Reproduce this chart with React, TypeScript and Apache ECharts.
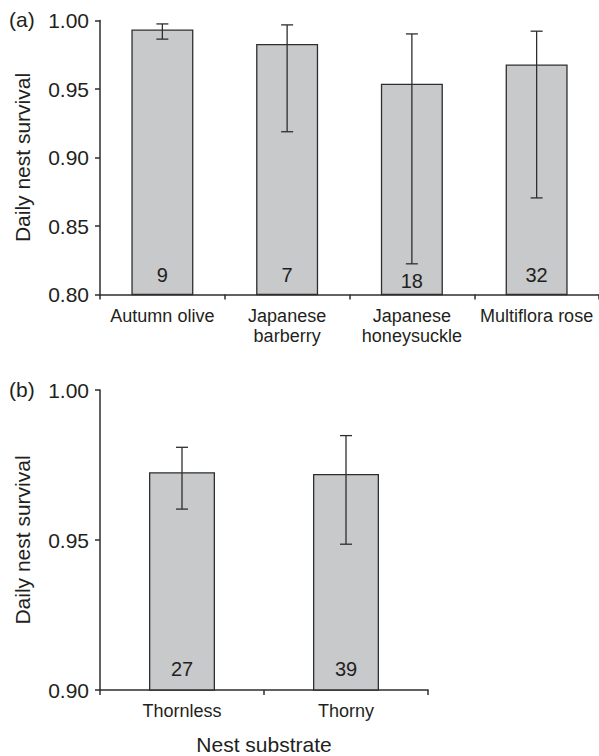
import React, { useEffect, useRef } from "react";
import * as echarts from "echarts";

// Panel (a): shrub species
const speciesCategories = ["Autumn olive", "Japanese\nbarberry", "Japanese\nhoneysuckle", "Multiflora rose"];
const speciesSurvival = [0.9934, 0.9829, 0.9538, 0.9679];
const speciesLower = [0.9864, 0.9188, 0.8224, 0.8705];
const speciesUpper = [0.9975, 0.9968, 0.9902, 0.9922];
const speciesNests = [9, 7, 18, 32];

// Panel (b): substrate
const substrateCategories = ["Thornless", "Thorny"];
const substrateSurvival = [0.9726, 0.972];
const substrateLower = [0.9603, 0.9486];
const substrateUpper = [0.9809, 0.9848];
const substrateNests = [27, 39];

const yTicksA = [0.8, 0.85, 0.9, 0.95, 1.0];
const yTicksB = [0.9, 0.95, 1.0];

const FONT = "'Liberation Sans', Arial, Helvetica, sans-serif";
const INK = "#231f20";
const LINE = "#2e2e2e";
const FILL = "#c8c9cb";

function errorSeries(xi: number, lower: number[], upper: number[]) {
  return {
    type: "custom",
    xAxisIndex: xi,
    yAxisIndex: xi,
    z: 5,
    silent: true,
    data: lower.map((l, i) => [i, l, upper[i]]),
    renderItem: (params: any, api: any) => {
      const i = api.value(0);
      const lo = api.coord([i, api.value(1)]);
      const hi = api.coord([i, api.value(2)]);
      const hw = 6;
      const style = { stroke: LINE, lineWidth: 1.3 };
      return {
        type: "group",
        children: [
          { type: "line", shape: { x1: lo[0], y1: lo[1], x2: hi[0], y2: hi[1] }, style },
          { type: "line", shape: { x1: lo[0] - hw, y1: lo[1], x2: lo[0] + hw, y2: lo[1] }, style },
          { type: "line", shape: { x1: hi[0] - hw, y1: hi[1], x2: hi[0] + hw, y2: hi[1] }, style },
        ],
      };
    },
  };
}

function barSeries(xi: number, values: number[], counts: number[], barWidth: number, distances: number[]) {
  return {
    type: "bar",
    xAxisIndex: xi,
    yAxisIndex: xi,
    barWidth,
    z: 2,
    itemStyle: { color: FILL, borderColor: LINE, borderWidth: 1.3 },
    data: values.map((v, i) => ({
      value: v,
      label: {
        show: true,
        position: "insideBottom",
        distance: distances[i],
        formatter: String(counts[i]),
        fontSize: 20,
        fontFamily: FONT,
        color: INK,
      },
    })),
  };
}

function yAxis(gi: number, ticks: number[], name: string) {
  return {
    type: "value",
    gridIndex: gi,
    min: ticks[0],
    max: ticks[ticks.length - 1],
    interval: 0.05,
    name,
    nameLocation: "middle",
    nameGap: 67,
    nameTextStyle: { fontSize: 21, fontFamily: FONT, color: INK },
    axisLine: { show: true, lineStyle: { color: LINE, width: 1.5 } },
    axisTick: { show: true, length: 5, lineStyle: { color: LINE, width: 1.5 } },
    splitLine: { show: false },
    axisLabel: {
      fontSize: 21,
      fontFamily: FONT,
      color: INK,
      margin: 11,
      formatter: (v: number) => v.toFixed(2),
    },
  };
}

function xAxis(gi: number, cats: string[], name?: string) {
  return {
    type: "category",
    gridIndex: gi,
    data: cats,
    name: name || "",
    nameLocation: "middle",
    nameGap: 44,
    nameTextStyle: { fontSize: 21, fontFamily: FONT, color: INK },
    axisLine: { show: true, lineStyle: { color: LINE, width: 1.5 } },
    axisTick: { show: true, length: 5, lineStyle: { color: LINE, width: 1.5 } },
    axisLabel: {
      fontSize: 18,
      lineHeight: 20,
      fontFamily: FONT,
      color: INK,
      margin: 11,
      interval: 0,
    },
  };
}

export default function App() {
  const ref = useRef<HTMLDivElement>(null);
  useEffect(() => {
    if (!ref.current) return;
    const chart = echarts.init(ref.current, undefined, { renderer: "svg" });
    chart.setOption({
      animation: false,
      backgroundColor: "#ffffff",
      grid: [
        { left: 100, top: 20.5, width: 499, height: 274, containLabel: false },
        { left: 100, top: 390, width: 328, height: 300, containLabel: false },
      ],
      xAxis: [xAxis(0, speciesCategories), xAxis(1, substrateCategories, "Nest substrate")],
      yAxis: [yAxis(0, yTicksA, "Daily nest survival"), yAxis(1, yTicksB, "Daily nest survival")],
      graphic: [
        { type: "text", left: 9, top: 9, style: { text: "(a)", fontSize: 21, fontFamily: FONT, fill: INK } },
        { type: "text", left: 9, top: 379, style: { text: "(b)", fontSize: 21, fontFamily: FONT, fill: INK } },
      ],
      series: [
        barSeries(0, speciesSurvival, speciesNests, 62, [10, 10, 4, 10]),
        errorSeries(0, speciesLower, speciesUpper),
        barSeries(1, substrateSurvival, substrateNests, 66, [12, 12]),
        errorSeries(1, substrateLower, substrateUpper),
      ],
    });
    return () => chart.dispose();
  }, []);
  return (
    <div
      ref={ref}
      style={{ position: "fixed", left: 0, top: 0, width: 599, height: 756, background: "#fff" }}
    />
  );
}
